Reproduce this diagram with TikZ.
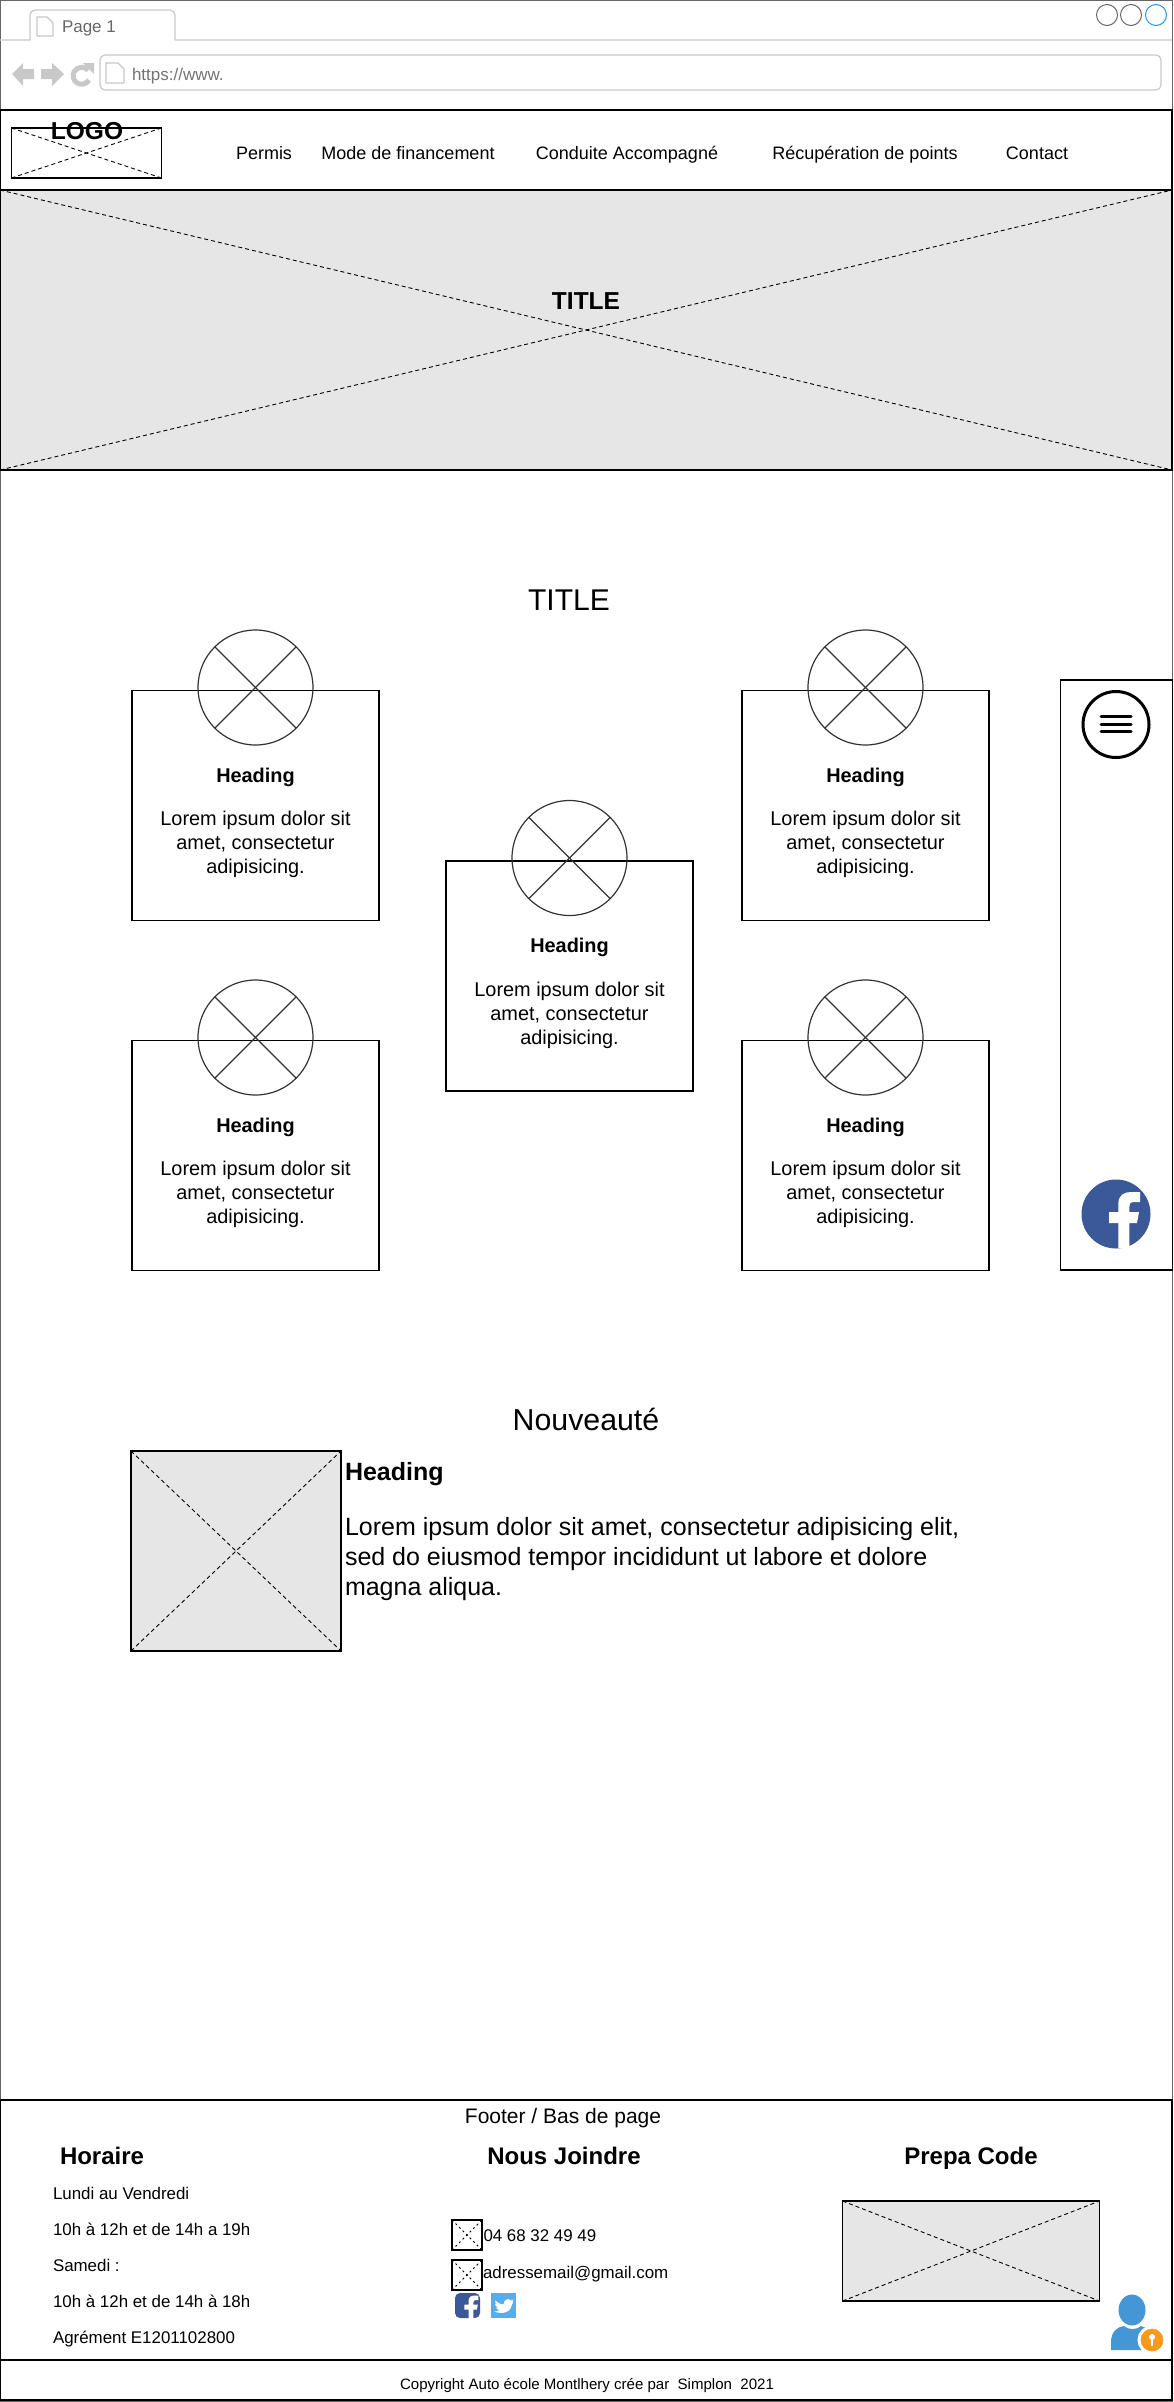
\documentclass[tikz,border=0pt]{standalone}
\usepackage{fontspec}
\setmainfont{Liberation Sans}
\usetikzlibrary{calc}
\usetikzlibrary{positioning}
\usetikzlibrary{shapes.geometric}
\definecolor{chrome}{HTML}{C8C8C8}
\definecolor{placeholder}{HTML}{E6E6E6}
\definecolor{fbblue}{HTML}{3B5998}
\definecolor{twblue}{HTML}{55ACEE}
\definecolor{userblue}{HTML}{4596D4}
\definecolor{keyorange}{HTML}{F8981D}
\definecolor{winblue}{HTML}{2196F3}
\newcommand{\fs}[1]{\fontsize{#1}{1.2\dimexpr #1pt\relax}\selectfont}
\tikzset{
  every node/.style={inner sep=0pt, outer sep=0pt},
  imgbox/.style={rectangle, draw=black, line width=1.1pt, fill=placeholder},
  emptybox/.style={rectangle, draw=black, line width=1.1pt},
  cardbox/.style={emptybox, minimum width=247, minimum height=230},
  crossline/.style={draw=black, line width=0.9pt, dash pattern=on 4pt off 3pt},
  crossround/.style={circle, draw=black!80, line width=1.2pt, minimum size=115},
  txt/.style={font=\fs{#1}, text height=.72*#1, text depth=0pt},
  boldtxt/.style={font=\fs{#1}\bfseries, text height=.72*#1, text depth=0pt},
  navtext/.style={txt=18},
  smalltext/.style={txt=16.9, anchor=west},
  headtext/.style={boldtxt=24},
  fbf/.pic={\fill[white] (2.3,34) -- (2.3,9) -- (-7,9) -- (-7,-2) -- (2.3,-2) -- (2.3,-10)
    .. controls (2.3,-19) and (8,-22) .. (15,-22) -- (24,-22) -- (24,-12) -- (18,-12)
    .. controls (14,-12) and (13.3,-10) .. (13.3,-7) -- (13.3,-2) -- (23,-2) -- (21,9)
    -- (13.3,9) -- (13.3,34) -- cycle;}
}
\begin{document}
\begin{tikzpicture}[x=1pt,y=-1pt]
  \useasboundingbox (0,0) rectangle (1173,2402);

  % browser window
  \draw [draw=black!60, line width=1.2pt] (0.7,0.7) rectangle (1172.3,2401.3);
  \draw [chrome, line width=1.2pt] (0,40) -- (30,40) -- (30,15) to [out=90,in=180] (35,10)
    -- (170,10) to [out=0,in=90] (175,15) -- (175,40) -- (1172,40);
  \draw [chrome, line width=1.2pt, fill=white] (37,17) -- (47,17) -- (53,23) -- (53,36) -- (37,36) -- cycle;
  \node [txt=17, text=black!60, anchor=west] (tablabel) at (62,26) {Page 1};

  \foreach \p/\pcol in {1107/black!60, 1131/black!60, 1156/winblue} {
    \node [circle, draw=\pcol, line width=1pt, minimum size=21] (win\p) at (\p,15) {};
  }

  \fill [chrome] (12,74) -- (23,63) -- (23,69) -- (34,69) -- (34,79) -- (23,79) -- (23,86) -- cycle;
  \fill [chrome] (64,74) -- (52,63) -- (52,69) -- (41,69) -- (41,79) -- (52,79) -- (52,86) -- cycle;
  \draw [chrome, line width=5pt] (89,80) arc (30:320:8.5);
  \fill [chrome] (83,63) -- (94,63) -- (94,74) -- cycle;

  \draw [chrome, line width=1.2pt, rounded corners=5pt] (100,55) rectangle (1161,90);
  \draw [chrome, line width=1.2pt, fill=white] (106,63) -- (118,63) -- (124,69) -- (124,83) -- (106,83) -- cycle;
  \node [txt=17, text=black!55, anchor=west] (urltext) at (132,74) {https://www.};

  % header
  \node [emptybox, minimum width=1172, minimum height=80] (header) at (586,150) {};
  \node [emptybox, minimum width=150, minimum height=50] (logobox) at (86.5,153) {};
  \draw [crossline] (logobox.north west) -- (logobox.south east);
  \draw [crossline] (logobox.south west) -- (logobox.north east);
  \node [boldtxt=24.5] (logotext) at (87,131) {LOGO};

  \node [navtext] (navpermis) at (264,153) {Permis};
  \node [navtext] (navmode) at (408,153) {Mode de financement};
  \node [navtext] (navconduite) at (627,153) {Conduite Accompagné};
  \node [navtext] (navpoints) at (865,153) {Récupération de points};
  \node [navtext] (navcontact) at (1037,153) {Contact};

  % hero
  \node [imgbox, minimum width=1172, minimum height=280] (hero) at (586,330) {};
  \draw [crossline] (hero.north west) -- (hero.south east);
  \draw [crossline] (hero.south west) -- (hero.north east);
  \node [boldtxt=24.5] (herotitle) at (586,301) {TITLE};

  \node [txt=30] (maintitle) at (569,600) {TITLE};

  % cards
  \foreach \name/\cx/\cy in {cardA/255.5/805.5, cardB/865.5/805.5, cardC/569.5/976, cardD/255.5/1155.5, cardE/865.5/1155.5} {
    \node [cardbox] (\name) at (\cx,\cy) {};
    \node [crossround] (\name-img) at (\cx,\cy-118) {};
    \draw [draw=black!80, line width=1.2pt] (\name-img.45) -- (\name-img.225);
    \draw [draw=black!80, line width=1.2pt] (\name-img.135) -- (\name-img.315);
    \node [boldtxt=19.9] (\name-head) at (\cx,\cy-30.5) {Heading};
    \node [font=\fontsize{19.9}{24}\selectfont, align=center] (\name-text) at (\cx,\cy+39) {Lorem ipsum dolor sit\\amet, consectetur\\adipisicing.};
  }

  % side panel
  \node [emptybox, minimum width=112, minimum height=590] (panel) at (1116.5,975) {};
  \node [circle, draw=black, line width=3pt, minimum size=66] (menuicon) at (1116,724.5) {};
  \foreach \p in {-8,0,7} {
    \draw [line width=3pt, line cap=round] ($(menuicon)+(-15,\p)$) -- ($(menuicon)+(15,\p)$);
  }
  \node [circle, fill=fbblue, minimum size=69] (fbicon) at (1116,1214) {};
  \pic at (fbicon) {fbf};

  % news
  \node [txt=30.3] (newstitle) at (586,1420) {Nouveauté};
  \node [imgbox, minimum width=210, minimum height=200] (newsimg) at (236,1551) {};
  \draw [crossline] (newsimg.north west) -- (newsimg.south east);
  \draw [crossline] (newsimg.south west) -- (newsimg.north east);
  \node [boldtxt=25, anchor=west] (newshead) at (345,1471.5) {Heading};
  \node [font=\fontsize{25}{30}\selectfont, align=left, anchor=north west] (newstext) at (345,1517.5)
    {Lorem ipsum dolor sit amet, consectetur adipisicing elit,\\sed do eiusmod tempor incididunt ut labore et dolore\\magna aliqua.};

  % footer
  \node [draw=black, line width=1.1pt, minimum width=1172, minimum height=260] (footer) at (586,2230) {};
  \node [draw=black, line width=1.1pt, minimum width=1172, minimum height=40] (copybar) at (586,2380) {};
  \node [txt=21] (footertitle) at (563,2116) {Footer / Bas de page};

  \node [headtext, anchor=west] (horaire) at (60,2156) {Horaire};
  \node [smalltext] (line1) at (53,2193) {Lundi au Vendredi};
  \node [smalltext] (line2) at (53,2229) {10h à 12h et de 14h a 19h};
  \node [smalltext] (line3) at (53,2265) {Samedi :};
  \node [smalltext] (line4) at (53,2301) {10h à 12h et de 14h à 18h};
  \node [smalltext] (line5) at (53,2337) {Agrément E1201102800};

  \node [headtext] (joindre) at (564,2156) {Nous Joindre};
  \foreach \name/\cy in {phoneicon/2235, mailicon/2275} {
    \node [emptybox, minimum size=30] (\name) at (467,\cy) {};
    \draw [crossline, line width=0.9pt, dash pattern=on 2pt off 3pt] (\name.north west) -- (\name.south east);
    \draw [crossline, line width=0.9pt, dash pattern=on 2pt off 3pt] (\name.south west) -- (\name.north east);
  }
  \node [smalltext, right=1.5 of phoneicon] (phone) {04 68 32 49 49};
  \node [smalltext, anchor=west] (mail) at (483,2272) {adressemail@gmail.com};

  \node [rectangle, rounded corners=5pt, fill=fbblue, minimum size=25] (fbsmall) at (467.5,2305.5) {};
  \pic [scale=0.45] at (fbsmall) {fbf};
  \node [rectangle, fill=twblue, minimum size=25] (twsmall) at (503.5,2305.5) {};
  \fill [white, shift={(twsmall.center)}] (-8,-5) .. controls (-5,-2) and (-2,-1) .. (0,-1)
    .. controls (0,-6) and (5,-8) .. (7.5,-5) -- (10,-6) -- (8.5,-3.5) -- (10,-4)
    .. controls (9,-2) and (8.5,-2) .. (8.5,-1) .. controls (8,5) and (1,10) .. (-9.5,6)
    .. controls (-7,6) and (-5,5.5) .. (-4,4.5) .. controls (-6,4.5) and (-7,3) .. (-7.5,2)
    -- (-5.5,2) .. controls (-7.5,1) and (-9,-1) .. (-8.5,-2) -- (-6.5,-1.5)
    .. controls (-8.5,-3) and (-9,-4) .. cycle;

  \node [headtext] (prepa) at (971,2156) {Prepa Code};
  \node [imgbox, minimum width=257, minimum height=100] (prepaimg) at (971,2251) {};
  \draw [crossline] (prepaimg.north west) -- (prepaimg.south east);
  \draw [crossline] (prepaimg.south west) -- (prepaimg.north east);

  \node [ellipse, fill=userblue, minimum width=27, minimum height=31] (userhead) at (1132,2310) {};
  \fill [userblue] (1111,2350) -- (1111,2342) .. controls (1111,2333) and (1116,2327) .. (1124,2326)
    .. controls (1128,2330) and (1137,2330) .. (1141,2326) .. controls (1148,2327) and (1152,2333) .. (1153,2350) -- cycle;
  \node [circle, fill=keyorange, draw=white, line width=3pt, minimum size=26] (userkey) at (1152,2340) {};
  \node [circle, fill=white, minimum size=6] (keyhead) at (1152,2337) {};
  \draw [white, line width=2pt] (keyhead) -- ++(0,9);

  \node [txt=15.05] (copyright) at (587,2384) {Copyright Auto école Montlhery crée par\ \ Simplon\ \ 2021};
\end{tikzpicture}
\end{document}
